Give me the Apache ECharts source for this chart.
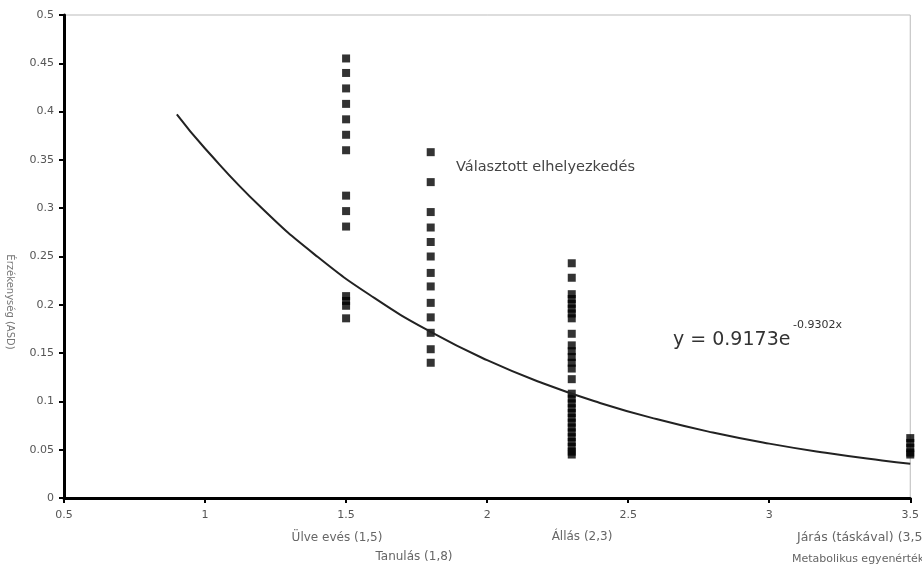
<!DOCTYPE html>
<html>
<head>
<meta charset="utf-8">
<script src="https://cdn.jsdelivr.net/npm/echarts@6/dist/echarts.min.js"></script>
<style>html,body{margin:0;padding:0;background:#fff}#c{width:922px;height:568px}</style>
</head>
<body>
<div id="c"></div>
<script>
// Metabolic equivalents (x positions of the activity columns)
const activityX = [1.5, 1.8, 2.3, 3.5];
const activityNames = ['Ülve evés (1,5)', 'Tanulás (1,8)', 'Állás (2,3)', 'Járás (táskával) (3,5)'];
// Observed values per activity
const ulveEves = [0.455, 0.44, 0.424, 0.408, 0.392, 0.376, 0.36, 0.313, 0.297, 0.281, 0.209, 0.204, 0.199, 0.186];
const tanulas = [0.358, 0.327, 0.296, 0.28, 0.265, 0.25, 0.233, 0.219, 0.202, 0.187, 0.171, 0.154, 0.14];
const allas = [0.243, 0.228, 0.211, 0.206, 0.201, 0.196, 0.191, 0.186, 0.17, 0.158, 0.152, 0.146, 0.14, 0.134, 0.123,
  0.108, 0.103, 0.098, 0.093, 0.088, 0.083, 0.078, 0.073, 0.068, 0.063, 0.058, 0.053, 0.048, 0.045];
const jaras = [0.062, 0.057, 0.052, 0.047, 0.045];
// Trend line y = 0.9173e^(-0.9302x)
const curveX = [0.9, 1.0, 1.2, 1.4, 1.6, 1.8, 2.0, 2.2, 2.4, 2.6, 2.8, 3.0, 3.2, 3.4, 3.5];
const curveY = [0.3971, 0.3618, 0.3004, 0.2494, 0.2071, 0.1719, 0.1427, 0.1185, 0.0984, 0.0817, 0.0678, 0.0563, 0.0468, 0.0388, 0.0354];

const groups = [ulveEves, tanulas, allas, jaras];
const points = [];
groups.forEach((g, i) => g.forEach(v => points.push([activityX[i], v])));
const curve = curveX.map((x, i) => [x, curveY[i]]);

const chart = echarts.init(document.getElementById('c'), null, {renderer: 'canvas'});
const F = 'DejaVu Sans';
chart.setOption({
  animation: false,
  backgroundColor: '#fff',
  grid: {left: 64, right: 6, top: 15, bottom: 70, show: true, borderColor: '#bbb', borderWidth: 1},
  xAxis: {
    type: 'value', min: 0.5, max: 3.5, interval: 0.5,
    axisLine: {show: true, onZero: false, lineStyle: {color: '#000', width: 3}},
    axisTick: {show: true, length: 5, lineStyle: {color: '#000', width: 2}},
    axisLabel: {color: '#555', fontSize: 11, fontFamily: F, margin: 12, showMaxLabel: true, showMinLabel: true},
    splitLine: {show: false}
  },
  yAxis: {
    type: 'value', min: 0, max: 0.5, interval: 0.05,
    axisLine: {show: true, onZero: false, lineStyle: {color: '#000', width: 3}},
    axisTick: {show: true, length: 5, lineStyle: {color: '#000', width: 2}},
    axisLabel: {color: '#555', fontSize: 11, fontFamily: F, margin: 10},
    splitLine: {show: false}
  },
  series: [
    {type: 'scatter', data: points, symbol: 'rect', symbolSize: 8, itemStyle: {color: '#000'}, z: 2},
    {type: 'line', data: curve, smooth: true, showSymbol: false, lineStyle: {color: '#222', width: 2}, z: 3}
  ],
  graphic: [
    {type: 'text', left: 456, top: 160, style: {text: 'Választott elhelyezkedés', fill: '#444', font: '14.5px "DejaVu Sans"'}},
    {type: 'text', left: 673, top: 331, style: {text: 'y = 0.9173e', fill: '#333', font: '19px "DejaVu Sans"'}},
    {type: 'text', left: 793, top: 320, style: {text: '-0.9302x', fill: '#333', font: '11px "DejaVu Sans"'}},
    {type: 'text', x: 10, y: 302, rotation: -Math.PI / 2, style: {text: 'Érzékenység (ASD)', fill: '#777', font: '10px "DejaVu Sans"', align: 'center', verticalAlign: 'middle'}},
    {type: 'text', x: 337, y: 538, style: {text: activityNames[0], fill: '#666', font: '12px "DejaVu Sans"', align: 'center', verticalAlign: 'middle'}},
    {type: 'text', x: 414, y: 557, style: {text: activityNames[1], fill: '#666', font: '12px "DejaVu Sans"', align: 'center', verticalAlign: 'middle'}},
    {type: 'text', x: 582, y: 537, style: {text: activityNames[2], fill: '#666', font: '12px "DejaVu Sans"', align: 'center', verticalAlign: 'middle'}},
    {type: 'text', x: 797, y: 538, style: {text: activityNames[3], fill: '#666', font: '12.5px "DejaVu Sans"', align: 'left', verticalAlign: 'middle'}},
    {type: 'text', x: 792, y: 559, style: {text: 'Metabolikus egyenérték', fill: '#666', font: '11px "DejaVu Sans"', align: 'left', verticalAlign: 'middle'}}
  ]
});
</script>
</body>
</html>
